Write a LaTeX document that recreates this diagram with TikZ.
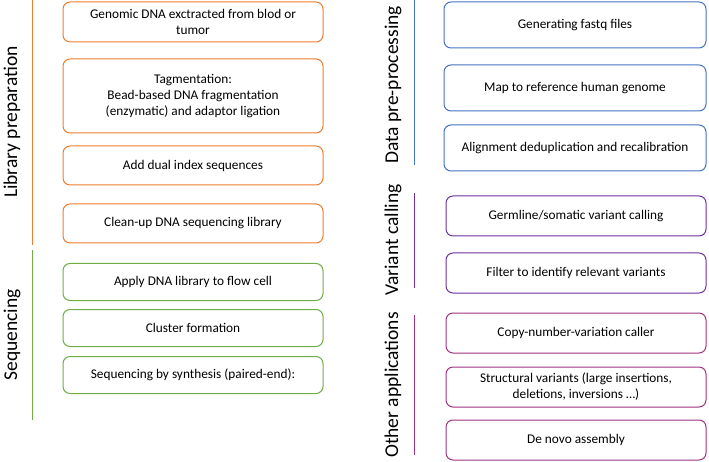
\documentclass[tikz,border=0pt]{standalone}
\usepackage{fontspec}
\setmainfont{Carlito}
\definecolor{cor}{RGB}{237,125,49}
\definecolor{cgr}{RGB}{112,173,71}
\definecolor{cbl}{RGB}{68,114,196}
\definecolor{cpu}{RGB}{112,48,160}
\definecolor{cma}{RGB}{160,50,130}
\begin{document}
\begin{tikzpicture}[x=1pt,y=-1pt,
 box/.style={draw=#1,line width=1pt,rounded corners=7pt,fill=white,align=center,font=\fontsize{13.3}{16}\selectfont,inner sep=0pt},
 lab/.style={rotate=90,font=\fontsize{19.5}{22}\selectfont,anchor=center},
 bar/.style={draw=#1,line width=0.8pt}]
\useasboundingbox (0,0) rectangle (709,462);
% left
\node[box=cor,minimum width=260,minimum height=40] (a1) at (193,22) {Genomic DNA exctracted from blod or\\tumor};
\node[box=cor,minimum width=260,minimum height=74] (a2) at (193,96) {Tagmentation:\\Bead-based DNA fragmentation\\(enzymatic) and adaptor ligation};
\node[box=cor,minimum width=260,minimum height=39] (a3) at (193,165.5) {Add dual index sequences};
\node[box=cor,minimum width=260,minimum height=39] (a4) at (193,223.5) {Clean-up DNA sequencing library};
\node[box=cgr,minimum width=260,minimum height=37] (b1) at (193,282) {Apply DNA library to flow cell};
\node[box=cgr,minimum width=260,minimum height=37] (b2) at (193,328) {Cluster formation};
\node[box=cgr,minimum width=260,minimum height=37] (b3) at (193,375) {Sequencing by synthesis (paired-end):};
\coordinate (la1) at (32,0); \coordinate (la2) at (32,245);
\draw[bar=cor] (la1) -- (la2);
\coordinate (lb1) at (32,250); \coordinate (lb2) at (32,420);
\draw[bar=cgr] (lb1) -- (lb2);
\node[lab] (ta) at (12,122) {Library preparation};
\node[lab] (tb) at (12,335) {Sequencing};
% right
\node[box=cbl,minimum width=262,minimum height=46] (c1) at (575,25) {Generating fastq files};
\node[box=cbl,minimum width=262,minimum height=46] (c2) at (575,88) {Map to reference human genome};
\node[box=cbl,minimum width=262,minimum height=46] (c3) at (575,148) {Alignment deduplication and recalibration};
\node[box=cpu,minimum width=260,minimum height=40] (d1) at (576,216) {Germline/somatic variant calling};
\node[box=cpu,minimum width=260,minimum height=40] (d2) at (576,273) {Filter to identify relevant variants};
\node[box=cma,minimum width=260,minimum height=40] (e1) at (576,333) {Copy-number-variation caller};
\node[box=cma,minimum width=260,minimum height=40] (e2) at (576,387) {Structural variants (large insertions,\\deletions, inversions …)};
\node[box=cma,minimum width=260,minimum height=40] (e3) at (576,440) {De novo assembly};
\coordinate (lc1) at (414,0); \coordinate (lc2) at (414,165);
\draw[bar=cbl] (lc1) -- (lc2);
\coordinate (ld1) at (414,193); \coordinate (ld2) at (414,288);
\draw[bar=cpu] (ld1) -- (ld2);
\coordinate (le1) at (414,315); \coordinate (le2) at (414,455);
\draw[bar=cma] (le1) -- (le2);
\node[lab] (tc) at (393,85) {Data pre-processing};
\node[lab] (td) at (393,240) {Variant calling};
\node[lab] (te) at (393,385) {Other applications};
\end{tikzpicture}
\end{document}
